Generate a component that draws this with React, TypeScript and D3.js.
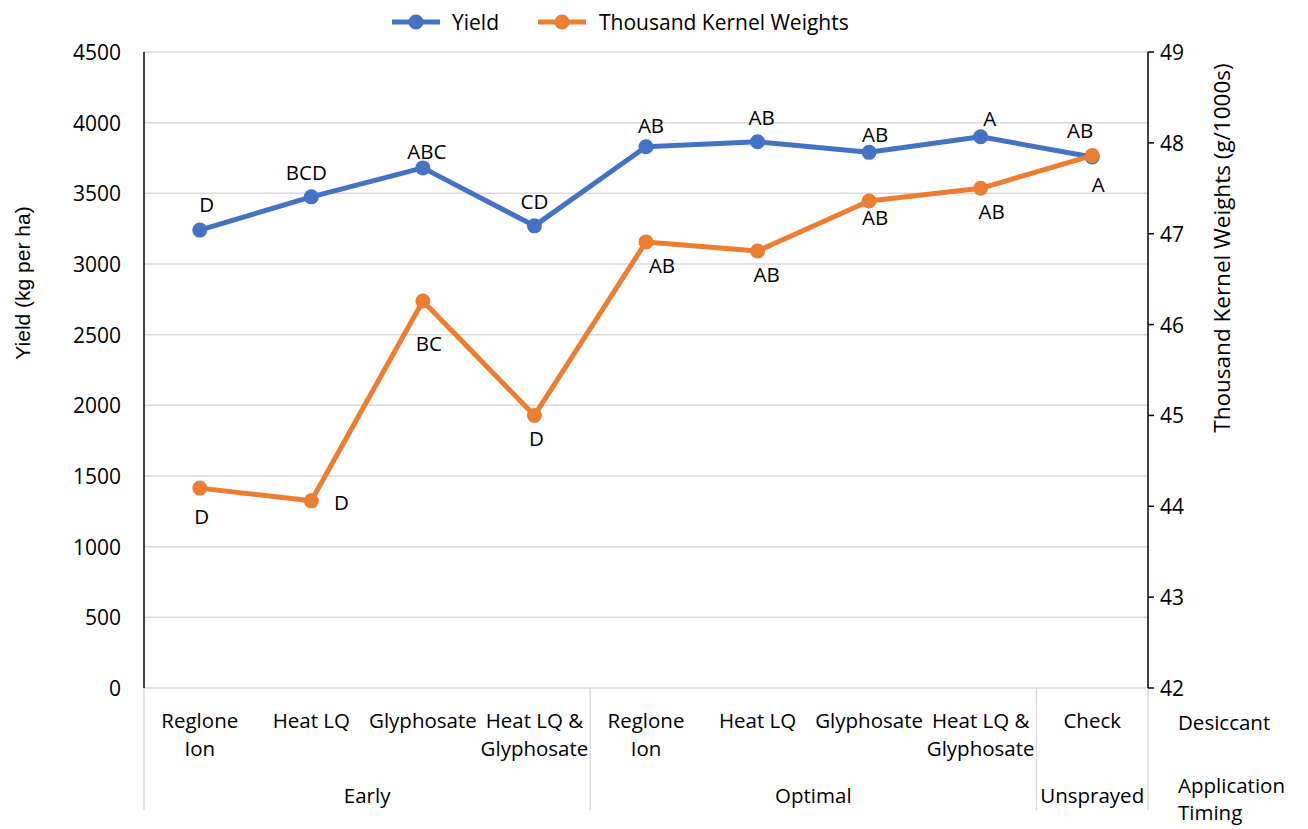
import React from "react";
import * as d3 from "d3";

const desiccants = [
  "Reglone\nIon",
  "Heat LQ",
  "Glyphosate",
  "Heat LQ &\nGlyphosate",
  "Reglone\nIon",
  "Heat LQ",
  "Glyphosate",
  "Heat LQ &\nGlyphosate",
  "Check",
];
const timingNames = ["Early", "Optimal", "Unsprayed"];
const timingSpans = [4, 4, 1];

const yieldValues = [3240, 3475, 3680, 3270, 3830, 3865, 3790, 3900, 3757];
const tkwValues = [44.2, 44.06, 46.26, 45.0, 46.91, 46.81, 47.36, 47.5, 47.86];
const yieldLetters = ["D", "BCD", "ABC", "CD", "AB", "AB", "AB", "A", "AB"];
const tkwLetters = ["D", "D", "BC", "D", "AB", "AB", "AB", "AB", "A"];

const yieldTicks = [0, 500, 1000, 1500, 2000, 2500, 3000, 3500, 4000, 4500];
const tkwTicks = [42, 43, 44, 45, 46, 47, 48, 49];

// label placement offsets (layout only)
const yieldLabelOffsets: [number, number][] = [
  [7, -26], [-5, -25], [4, -17], [0, -25], [5, -22], [4, -25], [6, -18], [9, -19], [-12, -27],
];
const tkwLabelOffsets: [number, number][] = [
  [2, 28], [30, 1], [6, 42], [2, 23], [16, 23], [9, 23], [6, 16], [11, 23], [6, 28],
];

const BLUE = "#4472C4";
const ORANGE = "#ED7D31";
const GRID = "#d9d9d9";
const FONT = "'Open Sans', sans-serif";

export default function App() {
  const W = 1308, H = 829;
  const left = 144, right = 1148, top = 52, bottom = 688;
  const x = d3.scaleBand<number>().domain(desiccants.map((_, i) => i)).range([left, right]);
  const cx = (i: number) => (x(i) as number) + x.bandwidth() / 2;
  const y = d3.scaleLinear().domain([0, 4500]).range([bottom, top]);
  const y2 = d3.scaleLinear().domain([42, 49]).range([bottom, top]);

  const yLine = d3.line<number>().x((_, i) => cx(i)).y((d) => y(d));
  const tLine = d3.line<number>().x((_, i) => cx(i)).y((d) => y2(d));

  const bounds: number[] = [0];
  timingSpans.forEach((s, i) => bounds.push(bounds[i] + s));

  const fs = 20.5;

  return (
    <svg width={W} height={H} style={{ position: "absolute", left: 0, top: 0, background: "#fff" }} fontFamily={FONT} fill="#000">
      {yieldTicks.map((t) => (
        <line key={"g" + t} x1={left} x2={right} y1={y(t)} y2={y(t)} stroke={GRID} strokeWidth={1.5} />
      ))}
      {bounds.map((b, i) => {
        const xx = b < desiccants.length ? (x(b) as number) : right;
        return <line key={"s" + i} x1={xx} x2={xx} y1={bottom} y2={810} stroke={GRID} strokeWidth={1.5} />;
      })}
      <line x1={left} x2={left} y1={top} y2={bottom} stroke="#000" strokeWidth={1.5} />
      {yieldTicks.map((t) => (
        <text key={"yl" + t} x={121} y={y(t)} textAnchor="end" dominantBaseline="central" fontSize={21}>
          {t}
        </text>
      ))}
      <line x1={right} x2={right} y1={top} y2={bottom} stroke="#000" strokeWidth={1.5} />
      {tkwTicks.map((t) => (
        <g key={"yr" + t}>
          <line x1={right} x2={right + 6} y1={y2(t)} y2={y2(t)} stroke="#000" strokeWidth={1.5} />
          <text x={1160} y={y2(t)} dominantBaseline="central" fontSize={21}>
            {t}
          </text>
        </g>
      ))}
      <text transform={`translate(22,${283}) rotate(-90)`} textAnchor="middle" dominantBaseline="central" fontSize={21} fontFamily="'Liberation Sans', Arial, sans-serif">
        Yield (kg per ha)
      </text>
      <text transform={`translate(1221,${248}) rotate(-90)`} textAnchor="middle" dominantBaseline="central" fontSize={22.5}>
        Thousand Kernel Weights (g/1000s)
      </text>
      {desiccants.map((d, i) =>
        d.split("\n").map((ln, j) => (
          <text key={"c" + i + j} x={cx(i)} y={720 + j * 28} textAnchor="middle" dominantBaseline="central" fontSize={fs}>
            {ln}
          </text>
        ))
      )}
      {timingNames.map((n, i) => {
        const x0 = x(bounds[i]) as number;
        const x1 = bounds[i + 1] < desiccants.length ? (x(bounds[i + 1]) as number) : right;
        return (
          <text key={"t" + i} x={(x0 + x1) / 2} y={795} textAnchor="middle" dominantBaseline="central" fontSize={fs}>
            {n}
          </text>
        );
      })}
      <text x={1178} y={722} dominantBaseline="central" fontSize={fs}>Desiccant</text>
      <text x={1178} y={785} dominantBaseline="central" fontSize={fs}>Application</text>
      <text x={1178} y={812} dominantBaseline="central" fontSize={fs}>Timing</text>

      <path d={yLine(yieldValues) as string} fill="none" stroke={BLUE} strokeWidth={5} strokeLinejoin="round" />
      {yieldValues.map((v, i) => (
        <circle key={"yc" + i} cx={cx(i)} cy={y(v)} r={7.5} fill={BLUE} />
      ))}
      <path d={tLine(tkwValues) as string} fill="none" stroke={ORANGE} strokeWidth={5} strokeLinejoin="round" />
      {tkwValues.map((v, i) => (
        <circle key={"tc" + i} cx={cx(i)} cy={y2(v)} r={7.5} fill={ORANGE} />
      ))}
      {yieldValues.map((v, i) => (
        <text key={"yt" + i} x={cx(i) + yieldLabelOffsets[i][0]} y={y(v) + yieldLabelOffsets[i][1]} textAnchor="middle" dominantBaseline="central" fontSize={fs}>
          {yieldLetters[i]}
        </text>
      ))}
      {tkwValues.map((v, i) => (
        <text key={"tt" + i} x={cx(i) + tkwLabelOffsets[i][0]} y={y2(v) + tkwLabelOffsets[i][1]} textAnchor="middle" dominantBaseline="central" fontSize={fs}>
          {tkwLetters[i]}
        </text>
      ))}
      <line x1={392} x2={440} y1={22} y2={22} stroke={BLUE} strokeWidth={5} />
      <circle cx={416} cy={22} r={7.5} fill={BLUE} />
      <text x={452} y={22} dominantBaseline="central" fontSize={21}>Yield</text>
      <line x1={538} x2={586} y1={22} y2={22} stroke={ORANGE} strokeWidth={5} />
      <circle cx={562} cy={22} r={7.5} fill={ORANGE} />
      <text x={599} y={22} dominantBaseline="central" fontSize={21}>Thousand Kernel Weights</text>
    </svg>
  );
}
